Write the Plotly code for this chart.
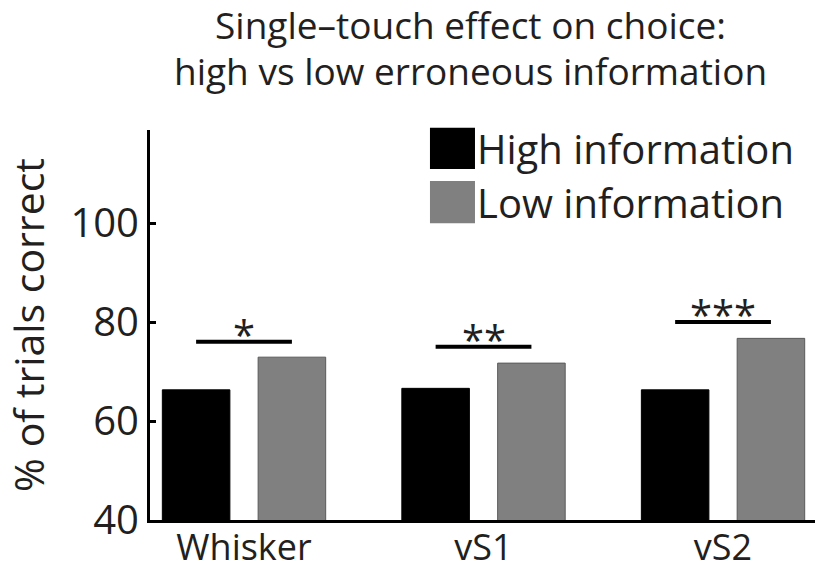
import plotly.graph_objects as go

categories = ["Whisker", "vS1", "vS2"]
high_info = [66.3, 66.6, 66.3]
low_info = [72.9, 71.7, 76.7]
sig_level = [76.0, 75.0, 80.0]
sig_stars = ["*", "**", "***"]
y_ticks = [40, 60, 80, 100]
series_names = ["High information", "Low information"]
title_lines = ["Single\u2013touch effect on choice:", "high vs low erroneous information"]

FONT = "Open Sans"
TXT = "#231f20"
pos = list(range(len(categories)))

fig = go.Figure()
fig.add_trace(go.Bar(x=pos, y=high_info, width=0.282, offset=-0.341,
                     marker=dict(color="#000000", line=dict(color="#000000", width=1)),
                     name=series_names[0], showlegend=False))
fig.add_trace(go.Bar(x=pos, y=low_info, width=0.282, offset=0.059,
                     marker=dict(color="#808080", line=dict(color="#5a5a5a", width=1)),
                     name=series_names[1], showlegend=False))

for i, (lvl, st) in enumerate(zip(sig_level, sig_stars)):
    fig.add_trace(go.Scatter(x=[i - 0.2, i + 0.2], y=[lvl, lvl], mode="lines",
                             line=dict(color="#000000", width=4), showlegend=False,
                             hoverinfo="skip"))
    fig.add_annotation(x=i, y=lvl, text=st, showarrow=False, xanchor="center",
                       yanchor="bottom", yshift=-22,
                       font=dict(family=FONT, size=40, color=TXT))

# legend (manual, big squares)
leg_colors = ["#000000", "#808080"]
leg_y = [(1.006, 0.900), (0.869, 0.761)]
for name, col, (y1, y0) in zip(series_names, leg_colors, leg_y):
    fig.add_shape(type="rect", xref="paper", yref="paper", x0=0.421, x1=0.4887,
                  y0=y0, y1=y1, fillcolor=col, line=dict(width=0))
    fig.add_annotation(xref="paper", yref="paper", x=0.4887, y=(y0 + y1) / 2,
                       text=name, showarrow=False, xanchor="left", yanchor="middle",
                       font=dict(family=FONT, size=40, color=TXT))

# title, two lines
for k, (line, py) in enumerate(zip(title_lines, [24, 70])):
    fig.add_annotation(xref="paper", yref="paper", x=(470 - 150) / 665,
                       y=(520 - py) / 390, text=line, showarrow=False,
                       xanchor="center", yanchor="middle",
                       font=dict(family=FONT, size=37, color=TXT))

fig.update_layout(
    width=815, height=572,
    margin=dict(l=150, r=0, t=130, b=52, autoexpand=False),
    paper_bgcolor="white", plot_bgcolor="white",
    barmode="overlay",
    font=dict(family=FONT, color=TXT),
)
fig.update_xaxes(range=[-0.3925, 2.384], tickvals=pos, ticktext=categories,
                 showline=True, linecolor="#000000", linewidth=3, ticks="",
                 showgrid=False, zeroline=False, automargin=False,
                 ticklabelstandoff=-6,
                 tickfont=dict(family=FONT, size=36, color=TXT))
fig.update_yaxes(range=[40, 118.8], tickvals=y_ticks, showline=True,
                 linecolor="#000000", linewidth=3, ticks="inside", ticklen=6,
                 tickwidth=3, tickcolor="#000000", showgrid=False, zeroline=False,
                 automargin=False,
                 tickfont=dict(family=FONT, size=40, color=TXT),
                 title=dict(text="% of trials correct", standoff=14,
                            font=dict(family=FONT, size=41, color=TXT)))

fig.write_html("out.html")
